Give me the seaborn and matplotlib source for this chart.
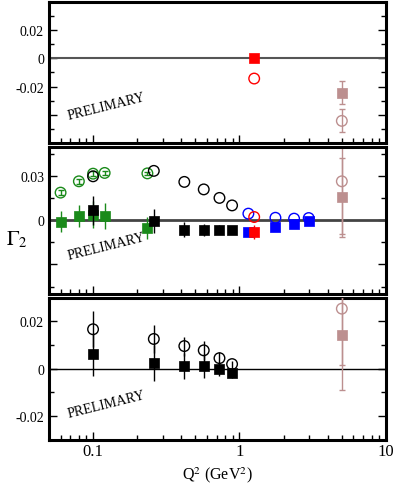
import matplotlib
matplotlib.use('Agg')
import matplotlib.pyplot as plt
import seaborn as sns
from matplotlib.ticker import MultipleLocator, FixedLocator, FixedFormatter

# ---- data (Q^2 in GeV^2, Gamma_2) ----
# top panel
top_red_q2 = [1.26]
top_red_sq = [0.0]
top_red_sq_err = [0.0012]
top_red_circ = [-0.0143]
top_rosy_q2 = [5.0]
top_rosy_sq = [-0.0243]
top_rosy_sq_err = [0.0082]
top_rosy_circ = [-0.0443]
top_rosy_circ_err = [0.0082]

# middle panel
mid_green_q2 = [0.06, 0.08, 0.1, 0.12, 0.235]
mid_green_circ = [0.0189, 0.0266, 0.0318, 0.0323, 0.0320]
mid_green_circ_err = [0.0015, 0.0015, 0.0015, 0.0015, 0.0012]
mid_green_sq = [-0.0009, 0.0030, 0.0039, 0.0030, -0.0052]
mid_green_sq_err = [0.0070, 0.0074, 0.0090, 0.0090, 0.0077]
mid_black_q2 = [0.1, 0.26, 0.42, 0.57, 0.73, 0.89]
mid_black_circ = [0.0300, 0.0337, 0.0262, 0.0211, 0.0153, 0.0102]
mid_black_sq = [0.0068, -0.0004, -0.0063, -0.0063, -0.0063, -0.0063]
mid_black_sq_err = [0.0099, 0.0080, 0.0050, 0.0040, 0.0030, 0.0020]
mid_blue_q2 = [1.15, 1.76, 2.36, 2.97]
mid_blue_circ = [0.0046, 0.0018, 0.0012, 0.0016]
mid_blue_sq = [-0.0079, -0.0048, -0.0025, -0.0004]
mid_red_q2 = [1.26]
mid_red_circ = [0.0023]
mid_red_sq = [-0.0077]
mid_red_sq_err = [0.0048]
mid_rosy_q2 = [5.0]
mid_rosy_circ = [0.0266]
mid_rosy_circ_err = [0.036]
mid_rosy_sq = [0.0157]
mid_rosy_sq_err = [0.0270]

# bottom panel
bot_black_q2 = [0.1, 0.26, 0.42, 0.57, 0.73, 0.89]
bot_black_circ = [0.0167, 0.0126, 0.0096, 0.0078, 0.0045, 0.0020]
bot_black_circ_err = [0.0076, 0.0060, 0.0040, 0.0040, 0.0025, 0.0015]
bot_black_sq = [0.0061, 0.0023, 0.0011, 0.0011, -0.0002, -0.0017]
bot_black_sq_err = [0.0090, 0.0076, 0.0055, 0.0050, 0.0030, 0.0020]
bot_rosy_q2 = [5.0]
bot_rosy_circ = [0.0254]
bot_rosy_circ_err = [0.0236]
bot_rosy_sq = [0.0143]
bot_rosy_sq_err = [0.0234]

GREEN = '#1a8a1a'
BLUE = '#0000ff'
RED = '#ff0000'
ROSY = '#bc8f8f'

sns.set_style('ticks')
plt.rcParams['font.family'] = ['Liberation Serif', 'DejaVu Serif']
plt.rcParams['mathtext.fontset'] = 'stix'
plt.rcParams['axes.unicode_minus'] = False
plt.rcParams['text.color'] = 'black'
plt.rcParams['xtick.color'] = 'black'
plt.rcParams['ytick.color'] = 'black'


def squares(ax, q2, g2, color, err=None, z=3, cap=2):
    if err is not None:
        ax.errorbar(q2, g2, yerr=err, fmt='none', ecolor=color, elinewidth=1.0,
                    capsize=cap, capthick=1.0, zorder=z)
    sns.scatterplot(x=q2, y=g2, marker='s', s=48, color=color, edgecolor=color,
                    linewidth=0.5, ax=ax, zorder=z + 0.5, legend=False)


def circles(ax, q2, g2, color, err=None, z=4, cap=2):
    if err is not None:
        ax.errorbar(q2, g2, yerr=err, fmt='none', ecolor=color, elinewidth=1.0,
                    capsize=cap, capthick=1.0, zorder=z)
    sns.scatterplot(x=q2, y=g2, marker='o', s=58, facecolor='none', edgecolor=color,
                    linewidth=1.0, ax=ax, zorder=z + 0.5, legend=False)


fig = plt.figure(figsize=(3.95, 4.85), dpi=100)
ax_top = fig.add_axes([0.124, 0.703, 0.853, 0.291])
ax_mid = fig.add_axes([0.124, 0.392, 0.853, 0.303])
ax_bot = fig.add_axes([0.124, 0.091, 0.853, 0.293])

# top
ax_top.axhline(0, color='#555555', lw=1.5, zorder=1)
squares(ax_top, top_red_q2, top_red_sq, RED, top_red_sq_err)
circles(ax_top, top_red_q2, top_red_circ, RED)
squares(ax_top, top_rosy_q2, top_rosy_sq, ROSY, top_rosy_sq_err)
circles(ax_top, top_rosy_q2, top_rosy_circ, ROSY, top_rosy_circ_err)

# middle
ax_mid.axhline(0, color='#444444', lw=2, zorder=1)
squares(ax_mid, mid_rosy_q2, mid_rosy_sq, ROSY, mid_rosy_sq_err, z=2)
circles(ax_mid, mid_rosy_q2, mid_rosy_circ, ROSY, mid_rosy_circ_err, z=2)
circles(ax_mid, mid_green_q2, mid_green_circ, GREEN, mid_green_circ_err, z=3)
squares(ax_mid, mid_green_q2, mid_green_sq, GREEN, mid_green_sq_err, z=3, cap=0)
circles(ax_mid, mid_black_q2, mid_black_circ, 'black', z=5)
squares(ax_mid, mid_black_q2, mid_black_sq, 'black', mid_black_sq_err, z=5, cap=0)
circles(ax_mid, mid_blue_q2, mid_blue_circ, BLUE, z=6)
squares(ax_mid, mid_blue_q2, mid_blue_sq, BLUE, z=6)
circles(ax_mid, mid_red_q2, mid_red_circ, RED, z=7)
squares(ax_mid, mid_red_q2, mid_red_sq, RED, mid_red_sq_err, z=7, cap=0)

# bottom
ax_bot.axhline(0, color='black', lw=1, zorder=1)
circles(ax_bot, bot_black_q2, bot_black_circ, 'black', bot_black_circ_err, z=3, cap=0)
squares(ax_bot, bot_black_q2, bot_black_sq, 'black', bot_black_sq_err, z=4, cap=0)
circles(ax_bot, bot_rosy_q2, bot_rosy_circ, ROSY, bot_rosy_circ_err, z=3)
squares(ax_bot, bot_rosy_q2, bot_rosy_sq, ROSY, bot_rosy_sq_err, z=4)

limits = [(-0.06, 0.04), (-0.05, 0.05), (-0.03, 0.03)]
majors = [[-0.04, -0.02, 0, 0.02], [-0.03, 0, 0.03], [-0.02, 0, 0.02]]
labels = [['', '-0.02', '0', '0.02'], ['', '0', '0.03'], ['-0.02', '0', '0.02']]
minors = [0.01, 0.015, 0.01]
text_y = [-0.0338, -0.0173, -0.0148]

for ax, lim, maj, lab, mn, ty in zip([ax_top, ax_mid, ax_bot], limits, majors, labels, minors, text_y):
    ax.set_xscale('log')
    ax.set_xlim(0.05, 10)
    ax.set_ylim(*lim)
    ax.yaxis.set_major_locator(FixedLocator(maj))
    ax.yaxis.set_major_formatter(FixedFormatter(lab))
    ax.yaxis.set_minor_locator(MultipleLocator(mn))
    ax.tick_params(which='both', direction='in', left=True, right=True, top=False, bottom=True,
                   width=1.0, labelsize=10)
    ax.tick_params(which='major', length=6)
    ax.tick_params(which='minor', length=3.5)
    for sp in ax.spines.values():
        sp.set_linewidth(2.2)
        sp.set_color('black')
        sp.set_visible(True)
    ax.set_xlabel('')
    ax.set_ylabel('')
    ax.text(0.124, ty, 'PRELIMARY', rotation=14, fontsize=10, ha='center', va='center')

ax_top.tick_params(labelbottom=False)
ax_mid.tick_params(labelbottom=False)
ax_bot.set_xticks([0.1, 1, 10])
ax_bot.set_xticklabels(['0.1', '1', '10'])
ax_bot.tick_params(axis='x', labelsize=12, pad=2)

fig.text(0.043, 0.505, r'$\Gamma_2$', fontsize=15, ha='center', va='center')
fig.text(0.55, 0.0, r'Q$^2$ (GeV$^2$)', fontsize=11.5, ha='center', va='bottom')

fig.savefig('out.png', dpi=100)
